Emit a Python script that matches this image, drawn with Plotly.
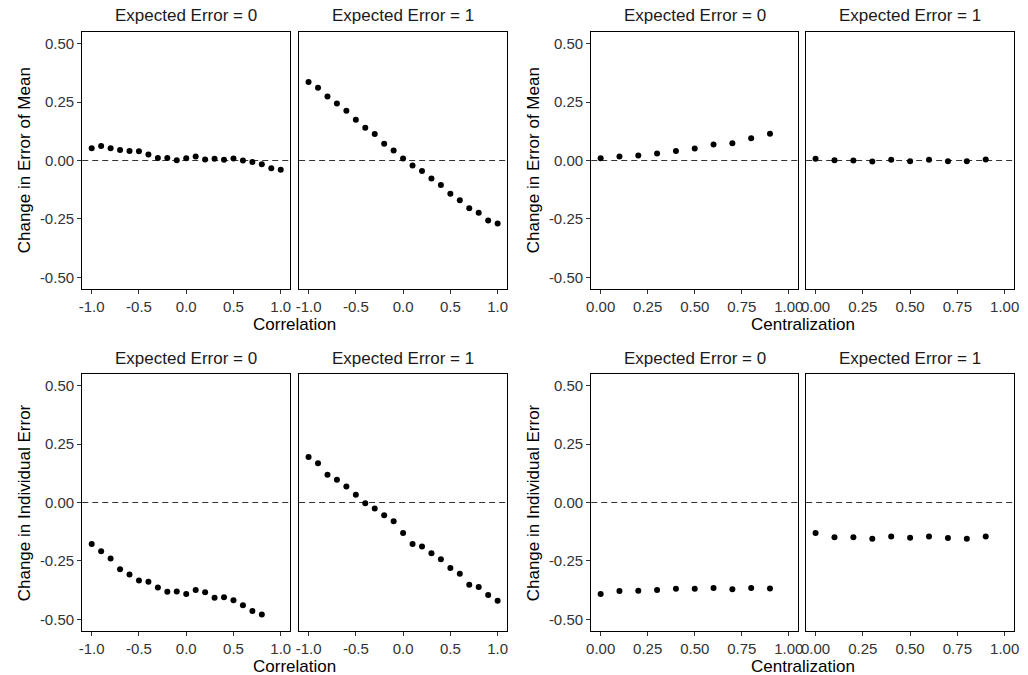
import plotly.graph_objects as go

# ---------------- data ----------------
corr_x = [-1.0, -0.9, -0.8, -0.7, -0.6, -0.5, -0.4, -0.3, -0.2, -0.1, 0.0,
          0.1, 0.2, 0.3, 0.4, 0.5, 0.6, 0.7, 0.8, 0.9, 1.0]
corr_x_short = corr_x[:19]
cent_x = [0.0, 0.1, 0.2, 0.3, 0.4, 0.5, 0.6, 0.7, 0.8, 0.9]

mean_corr_e0 = [0.052, 0.062, 0.052, 0.045, 0.041, 0.040, 0.026, 0.011, 0.011, 0.001, 0.010,
                0.017, 0.004, 0.007, 0.003, 0.009, 0.000, -0.006, -0.016, -0.033, -0.040]
mean_corr_e1 = [0.336, 0.311, 0.274, 0.244, 0.213, 0.174, 0.140, 0.113, 0.072, 0.043, 0.009,
                -0.021, -0.045, -0.077, -0.105, -0.142, -0.170, -0.204, -0.224, -0.257, -0.270]
mean_cent_e0 = [0.010, 0.017, 0.021, 0.030, 0.041, 0.051, 0.068, 0.074, 0.095, 0.115]
mean_cent_e1 = [0.007, 0.001, 0.000, -0.004, 0.003, -0.003, 0.003, -0.003, -0.003, 0.004]

ind_corr_e0 = [-0.178, -0.209, -0.240, -0.286, -0.308, -0.334, -0.339, -0.364, -0.382, -0.381,
               -0.392, -0.374, -0.384, -0.408, -0.406, -0.418, -0.440, -0.464, -0.479]
ind_corr_e1 = [0.195, 0.168, 0.119, 0.097, 0.068, 0.033, -0.003, -0.026, -0.055, -0.080, -0.131,
               -0.178, -0.188, -0.217, -0.243, -0.280, -0.305, -0.352, -0.362, -0.396, -0.420]
ind_cent_e0 = [-0.392, -0.379, -0.378, -0.374, -0.369, -0.369, -0.366, -0.371, -0.366, -0.368]
ind_cent_e1 = [-0.131, -0.149, -0.149, -0.155, -0.146, -0.151, -0.145, -0.152, -0.155, -0.146]

y_tickvals = [0.5, 0.25, 0.0, -0.25, -0.5]
y_ticktext = ["0.50", "0.25", "0.00", "-0.25", "-0.50"]
corr_tickvals = [-1.0, -0.5, 0.0, 0.5, 1.0]
corr_ticktext = ["-1.0", "-0.5", "0.0", "0.5", "1.0"]
cent_tickvals = [0.0, 0.25, 0.5, 0.75, 1.0]
cent_ticktext = ["0.00", "0.25", "0.50", "0.75", "1.00"]

strip_labels = ["Expected Error = 0", "Expected Error = 1"]
y_titles = ["Change in Error of Mean", "Change in Individual Error"]
x_titles = ["Correlation", "Centralization"]

# ---------------- layout geometry ----------------
W, H = 1028, 675
col_px = [(78, 288), (297, 507), (592, 801), (809, 1019)]
row_px = [(32, 289), (374, 631)]

FONT = "Liberation Sans, Arial, sans-serif"
TICKC = "#333333"

panels = [
    (0, 0, corr_x, mean_corr_e0, "corr"),
    (0, 1, corr_x, mean_corr_e1, "corr"),
    (0, 2, cent_x, mean_cent_e0, "cent"),
    (0, 3, cent_x, mean_cent_e1, "cent"),
    (1, 0, corr_x_short, ind_corr_e0, "corr"),
    (1, 1, corr_x, ind_corr_e1, "corr"),
    (1, 2, cent_x, ind_cent_e0, "cent"),
    (1, 3, cent_x, ind_cent_e1, "cent"),
]

fig = go.Figure()
layout = {}
shapes = []
annotations = []

for i, (r, c, xs, ys, kind) in enumerate(panels):
    n = i + 1
    xa = "x" if n == 1 else f"x{n}"
    ya = "y" if n == 1 else f"y{n}"
    fig.add_trace(go.Scatter(
        x=xs, y=ys, mode="markers", xaxis=xa, yaxis=ya,
        marker=dict(color="black", size=6, line=dict(width=0)),
        showlegend=False, hoverinfo="x+y"))
    x0p, x1p = col_px[c]
    y0p, y1p = row_px[r]
    xdom = [x0p / W, x1p / W]
    ydom = [1 - y1p / H, 1 - y0p / H]
    if kind == "corr":
        xr, tv, tt = [-1.1, 1.1], corr_tickvals, corr_ticktext
    else:
        xr, tv, tt = [-0.05, 1.05], cent_tickvals, cent_ticktext
    layout["xaxis" if n == 1 else f"xaxis{n}"] = dict(
        domain=xdom, range=xr, anchor=ya, tickmode="array", tickvals=tv, ticktext=tt,
        showgrid=False, zeroline=False, showline=True, mirror=True,
        linecolor="black", linewidth=1.3, ticks="outside", ticklen=4,
        tickcolor="#333333", tickwidth=1,
        tickfont=dict(family=FONT, size=15, color=TICKC), fixedrange=True)
    left = c in (0, 2)
    layout["yaxis" if n == 1 else f"yaxis{n}"] = dict(
        domain=ydom, range=[-0.55, 0.55], anchor=xa, tickmode="array",
        tickvals=y_tickvals, ticktext=y_ticktext,
        showgrid=False, zeroline=False, showline=True, mirror=True,
        linecolor="black", linewidth=1.3,
        ticks="outside" if left else "", ticklen=4, tickcolor="#333333", tickwidth=1,
        showticklabels=left,
        tickfont=dict(family=FONT, size=15, color=TICKC), fixedrange=True)
    shapes.append(dict(type="line", xref=f"{xa} domain", yref=ya,
                       x0=0, x1=1, y0=0, y1=0, layer="below",
                       line=dict(color="#333333", width=1.1, dash="6px,4px")))
    annotations.append(dict(
        text=strip_labels[c % 2], xref="paper", yref="paper",
        x=(x0p + x1p) / 2 / W, y=1 - (y0p - 16) / H,
        showarrow=False, xanchor="center", yanchor="middle",
        font=dict(family=FONT, size=17, color="#1a1a1a")))

for r in range(2):
    y0p, y1p = row_px[r]
    for g, (cl, cr) in enumerate([(0, 1), (2, 3)]):
        xl = col_px[cl][0]
        xr_ = col_px[cr][1]
        annotations.append(dict(
            text=x_titles[g], xref="paper", yref="paper",
            x=(xl + xr_) / 2 / W, y=1 - (y1p + 35) / H,
            showarrow=False, xanchor="center", yanchor="middle",
            font=dict(family=FONT, size=17, color="black")))
        annotations.append(dict(
            text=y_titles[r], xref="paper", yref="paper",
            x=(xl - 58) / W, y=1 - (y0p + y1p) / 2 / H, textangle=-90,
            showarrow=False, xanchor="center", yanchor="middle",
            font=dict(family=FONT, size=17, color="black")))

layout.update(dict(
    width=W, height=H, margin=dict(l=0, r=0, t=0, b=0),
    paper_bgcolor="white", plot_bgcolor="white",
    shapes=shapes, annotations=annotations, showlegend=False))
fig.update_layout(**layout)
fig.write_html("out.html")
